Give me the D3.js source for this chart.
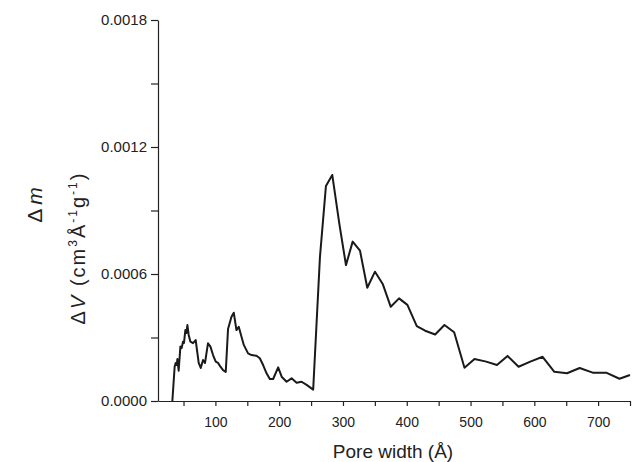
<!DOCTYPE html>
<html>
<head>
<meta charset="utf-8">
<script src="https://cdn.jsdelivr.net/npm/d3@7"></script>
<style>
  html, body { margin: 0; padding: 0; background: #fff; }
  svg { display: block; font-family: "Liberation Sans", Arial, sans-serif; }
  .axis path, .axis line { stroke: #222; stroke-width: 1.2; }
  .axis text { fill: #222; }
</style>
</head>
<body>
<div id="chart"></div>
<script>
  // pore size distribution
  var poreWidth = [32.5, 36.1, 37.7, 39.3, 40.4, 42.4, 45.1, 47.1, 49.2, 50.7, 52.9, 54.5, 56.1, 58.1,
    60.8, 64.9, 69.1, 71.1, 73.8, 77.0, 80.6, 83.7, 88.4, 92.2, 96.3, 100.5, 104.1, 107.9, 112.0,
    116.2, 119.8, 125.2, 128.8, 133.0, 136.6, 140.9, 144.5, 151.2, 156.6, 164.4, 169.6, 174.8,
    180.2, 185.3, 190.5, 198.4, 204.2, 211.6, 219.4, 227.3, 235.1, 243.0, 253.3, 263.9, 273.3,
    283.2, 294.2, 304.7, 315.2, 326.7, 338.1, 350.2, 362.3, 374.9, 387.9, 401.0, 415.7, 428.8,
    444.5, 459.1, 474.3, 490.5, 506.2, 524.6, 541.4, 558.0, 575.3, 593.7, 613.0, 631.4, 651.3,
    671.1, 691.5, 712.6, 733.5, 750.0];
  var dV = [0, 0.000162, 0.000180, 0.000170, 0.000198, 0.000143, 0.000257, 0.000250, 0.000280,
    0.000274, 0.000335, 0.000321, 0.000359, 0.000312, 0.000280, 0.000273, 0.000288, 0.000241,
    0.000180, 0.000156, 0.000194, 0.000180, 0.000273, 0.000257, 0.000217, 0.000186, 0.000180,
    0.000162, 0.000146, 0.000137, 0.000340, 0.000398, 0.000417, 0.000335, 0.000351, 0.000304,
    0.000265, 0.000225, 0.000217, 0.000214, 0.000202, 0.000170, 0.000131, 0.000104, 0.000104,
    0.000159, 0.000113, 0.000091, 0.000107, 0.000086, 0.000091, 0.000076, 0.000054, 0.000680,
    0.001016, 0.001068, 0.000839, 0.000642, 0.000753, 0.000710, 0.000535, 0.000611, 0.000553,
    0.000445, 0.000485, 0.000454, 0.000354, 0.000332, 0.000314, 0.000359, 0.000325, 0.000157,
    0.000198, 0.000186, 0.000170, 0.000213, 0.000162, 0.000186, 0.000209, 0.000138, 0.000131,
    0.000156, 0.000134, 0.000134, 0.000105, 0.000123];

  var xMajor = [100, 200, 300, 400, 500, 600, 700];
  var xMinor = [50, 150, 250, 350, 450, 550, 650, 750];
  var yMajor = [0, 0.0006, 0.0012, 0.0018];
  var yMinor = [0.0003, 0.0009, 0.0015];

  var W = 634, H = 462;
  var m = { t: 20, r: 4, b: 61, l: 158 };

  var svg = d3.select('#chart').append('svg').attr('width', W).attr('height', H);

  var x = d3.scaleLinear().domain([10, 750]).range([m.l, W - m.r]);
  var y = d3.scaleLinear().domain([0, 0.0018]).range([H - m.b, m.t]);

  // x axis: labelled ticks plus unlabelled half steps
  svg.append('g').attr('class', 'axis')
    .attr('transform', 'translate(0,' + (H - m.b) + ')')
    .call(d3.axisBottom(x).tickValues(xMajor).tickSize(5).tickPadding(11).tickSizeOuter(0))
    .call(function (g) { g.selectAll('text').attr('font-size', 14); });
  svg.append('g').attr('class', 'axis')
    .attr('transform', 'translate(0,' + (H - m.b) + ')')
    .call(d3.axisBottom(x).tickValues(xMinor).tickSize(5).tickFormat('').tickSizeOuter(0))
    .call(function (g) { g.select('.domain').remove(); });

  svg.append('g').attr('class', 'axis')
    .attr('transform', 'translate(' + m.l + ',0)')
    .call(d3.axisLeft(y).tickValues(yMajor).tickSize(7).tickPadding(4).tickSizeOuter(0)
      .tickFormat(d3.format('.4f')))
    .call(function (g) { g.selectAll('text').attr('font-size', 15); });
  svg.append('g').attr('class', 'axis')
    .attr('transform', 'translate(' + m.l + ',0)')
    .call(d3.axisLeft(y).tickValues(yMinor).tickSize(7).tickFormat('').tickSizeOuter(0))
    .call(function (g) { g.select('.domain').remove(); });

  var line = d3.line()
    .x(function (d, i) { return x(poreWidth[i]); })
    .y(function (d) { return y(d); });
  svg.append('path').datum(dV)
    .attr('d', line)
    .attr('fill', 'none')
    .attr('stroke', '#1a1a1a')
    .attr('stroke-width', 2)
    .attr('stroke-linejoin', 'round');

  // axis titles
  svg.append('text')
    .attr('x', 393).attr('y', 458)
    .attr('text-anchor', 'middle')
    .attr('font-size', 19).attr('fill', '#222')
    .text('Pore width (Å)');

  var yl = svg.append('text')
    .attr('transform', 'translate(85,248) rotate(-90)')
    .attr('text-anchor', 'middle')
    .attr('font-size', 20).attr('letter-spacing', 2).attr('fill', '#222');
  yl.append('tspan').text('Δ');
  yl.append('tspan').attr('font-style', 'italic').text('V');
  yl.append('tspan').text(' (cm');
  yl.append('tspan').attr('font-size', 12).attr('dy', -8).text('3');
  yl.append('tspan').attr('dy', 8).text('Å');
  yl.append('tspan').attr('font-size', 12).attr('dy', -8).text('-1');
  yl.append('tspan').attr('dy', 8).text('g');
  yl.append('tspan').attr('font-size', 12).attr('dy', -8).text('-1');
  yl.append('tspan').attr('dy', 8).text(')');

  var ml = svg.append('text')
    .attr('transform', 'translate(42,205) rotate(-90)')
    .attr('text-anchor', 'middle')
    .attr('font-size', 21).attr('fill', '#222');
  ml.append('tspan').text('Δ');
  ml.append('tspan').attr('font-style', 'italic').attr('dx', 4).text('m');
</script>
</body>
</html>
